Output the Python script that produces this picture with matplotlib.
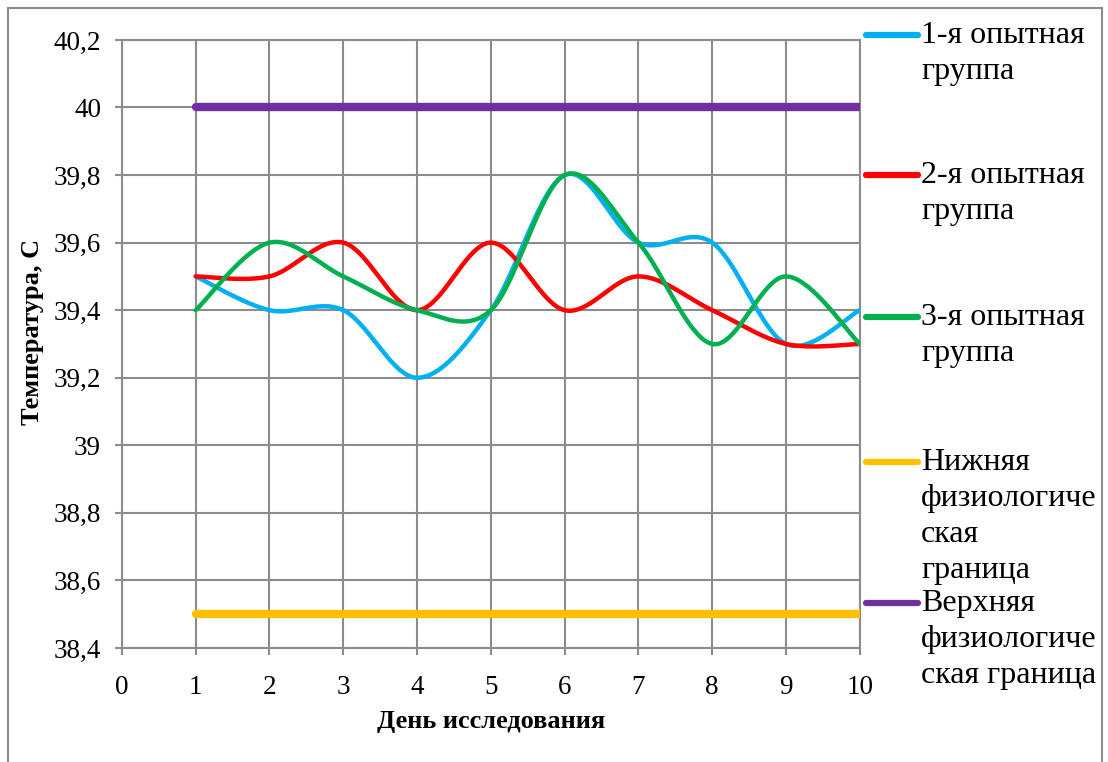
import numpy as np
import matplotlib
matplotlib.use("Agg")
import matplotlib.pyplot as plt
from matplotlib.lines import Line2D
from matplotlib.patches import Rectangle

plt.rcParams['font.family'] = ['Liberation Serif', 'DejaVu Serif']

days = [1, 2, 3, 4, 5, 6, 7, 8, 9, 10]
group1 = [39.5, 39.4, 39.4, 39.2, 39.4, 39.8, 39.6, 39.6, 39.3, 39.4]
group2 = [39.5, 39.5, 39.6, 39.4, 39.6, 39.4, 39.5, 39.4, 39.3, 39.3]
group3 = [39.4, 39.6, 39.5, 39.4, 39.4, 39.8, 39.6, 39.3, 39.5, 39.3]
lower_bound = [38.5] * 10
upper_bound = [40.0] * 10

labels = ["1-я опытная\nгруппа", "2-я опытная\nгруппа", "3-я опытная\nгруппа",
          "Нижняя\nфизиологиче\nская\nграница",
          "Верхняя\nфизиологиче\nская граница"]
colors = ["#00B0F0", "#FF0000", "#00B050", "#FFC000", "#7030A0"]
widths = [3.2, 3.2, 3.2, 6.0, 6.0]


def smooth(x, y, n=40):
    # excel-like smoothing: catmull-rom segments
    x = np.asarray(x, float)
    y = np.asarray(y, float)
    px = np.concatenate([[x[0]], x, [x[-1]]])
    py = np.concatenate([[y[0]], y, [y[-1]]])
    xs, ys = [], []
    t = np.linspace(0, 1, n)
    for i in range(1, len(px) - 2):
        p0, p1, p2, p3 = (np.array([px[j], py[j]]) for j in range(i - 1, i + 3))
        c1 = p1 + (p2 - p0) / 6
        c2 = p2 - (p3 - p1) / 6
        pts = ((1 - t) ** 3)[:, None] * p1 + (3 * (1 - t) ** 2 * t)[:, None] * c1 \
            + (3 * (1 - t) * t ** 2)[:, None] * c2 + (t ** 3)[:, None] * p2
        xs.extend(pts[:, 0])
        ys.extend(pts[:, 1])
    return np.array(xs), np.array(ys)


fig = plt.figure(figsize=(11.08, 7.62), dpi=100)
ax = fig.add_axes([0.110, 0.1496, 0.666, 0.798])

series = [group1, group2, group3, lower_bound, upper_bound]
for vals, c, w in zip(series, colors, widths):
    sx, sy = smooth(days, vals)
    ax.plot(sx, sy, color=c, lw=w, solid_capstyle='round', zorder=3)

ax.set_xlim(0, 10)
ax.set_ylim(38.4, 40.2)
ax.set_xticks(range(0, 11))
yt = np.round(np.arange(38.4, 40.21, 0.2), 1)
ax.set_yticks(yt)
ax.set_yticklabels([("%g" % v).replace(".", ",") for v in yt])
ax.grid(True, color="#8c8c8c", lw=1.5)
ax.set_axisbelow(True)
for s in ax.spines.values():
    s.set_color("#8c8c8c")
    s.set_linewidth(1.5)
ax.tick_params(direction='out', length=5, width=1.5, color="#8c8c8c",
               labelsize=19.5)
ax.tick_params(axis='x', pad=14.5)
ax.tick_params(axis='y', pad=10)
ax.set_xlabel("День исследования", fontsize=19, fontweight='bold', labelpad=7)
ax.set_ylabel("Температура, С", fontsize=19, fontweight='bold', labelpad=7)
ax.yaxis.label.set_y(0.52)

# legend drawn by hand to match the stacked layout
leg_y = [727, 587, 445, 300, 159]
for lab, c, yy in zip(labels, colors, leg_y):
    fy = yy / 762
    fig.add_artist(Line2D([866 / 1108, 918 / 1108], [fy, fy], color=c, lw=4.5,
                          solid_capstyle='round', transform=fig.transFigure))
    fig.text(921 / 1108, fy + 14 / 762, lab, fontsize=23, va='top', ha='left',
             linespacing=1.32)

fig.add_artist(Rectangle((8 / 1108, -0.01), 1094 / 1108, 1.0 - 8 / 762 + 0.01,
                         fill=False, edgecolor="#8c8c8c", lw=1.5,
                         transform=fig.transFigure))

fig.savefig("out.png", dpi=100)
